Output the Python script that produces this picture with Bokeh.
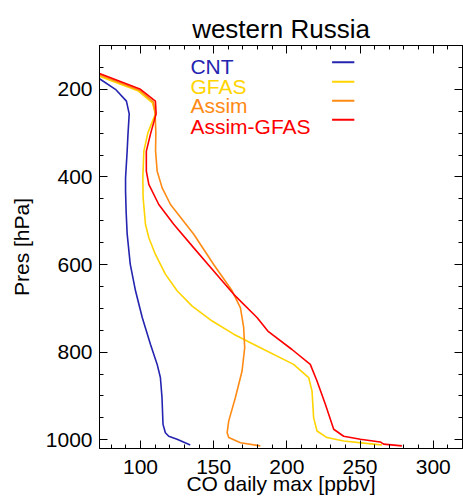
from bokeh.plotting import figure
from bokeh.models import Range1d, LinearAxis, SingleIntervalTicker, CustomJSTickFormatter
from bokeh.embed import file_html
from bokeh.resources import INLINE
from bokeh.core.properties import value

# ---- data ----
series_names = ["CNT", "GFAS", "Assim", "Assim-GFAS"]
series_colors = ["#2424b0", "#ffd400", "#ff8a14", "#ff0000"]

cnt_pres = [140, 176, 200, 227, 256, 300, 341, 402, 432, 480, 530, 599, 660, 721, 782, 828, 858, 904, 965, 984, 992, 999, 1012]
cnt_val = [56, 72, 82.9, 90.4, 92.3, 91.5, 90.9, 89.8, 89.8, 90.2, 90.9, 93, 96.6, 101.2, 106.8, 111.4, 113.6, 114.7, 115.4, 117, 119.3, 125, 134]

gfas_pres = [140, 170, 204, 231, 256, 300, 341, 402, 447, 508, 539, 577, 622, 660, 695, 729, 759, 790, 828, 858, 889, 950, 980, 995, 1003, 1010, 1012]
gfas_val = [48.5, 72, 98.6, 108.2, 110.2, 105, 102.3, 101.6, 101.8, 103.4, 105.7, 110.2, 117, 125, 135.3, 149, 163.7, 181.9, 204.6, 214.9, 217.2, 218.3, 220.6, 227.4, 238.8, 259.2, 265]

assim_pres = [140, 167, 202, 229, 256, 300, 341, 387, 425, 463, 531, 600, 660, 699, 744, 790, 843, 904, 957, 984, 995, 1007, 1014]
assim_val = [51, 72, 99.3, 108.9, 110, 110.5, 110.3, 111.4, 114.8, 120.5, 136.4, 150, 162.6, 168.3, 170.5, 171.2, 169.4, 164.8, 160.3, 159.2, 160.3, 168.3, 181.9]

ag_pres = [140, 164, 200, 227, 256, 300, 341, 387, 417, 463, 508, 562, 615, 668, 721, 752, 794, 828, 866, 919, 976, 992, 999, 1005, 1010, 1014]
ag_val = [54, 72, 100, 110.2, 110.7, 107, 104, 104, 105.7, 112.5, 122.7, 136.4, 150, 163.7, 179.6, 187, 203.5, 216, 220.6, 226.3, 232, 238.8, 250.2, 263.8, 266.1, 278.6]

x_ticks_interval = 50
y_ticks_interval = 200

FONT = "Liberation Sans"

p = figure(width=463, height=502, output_backend="svg", toolbar_location=None,
           x_range=Range1d(72, 320), y_range=Range1d(1020, 100),
           min_border_left=99, min_border_right=1, min_border_top=45, min_border_bottom=54,
           title="western Russia")
p.background_fill_color = "white"
p.border_fill_color = "white"
p.outline_line_color = "black"
p.outline_line_width = 1
p.xgrid.visible = False
p.ygrid.visible = False

p.title.align = "center"
p.title.text_font = FONT
p.title.text_font_size = "26px"
p.title.text_font_style = "normal"
p.title.text_color = "black"
p.title.standoff = 3


def style_axis(ax, labels=True):
    ax.major_tick_in = 8
    ax.major_tick_out = 0
    ax.minor_tick_in = 4
    ax.minor_tick_out = 0
    ax.axis_line_color = "black"
    ax.major_tick_line_color = "black"
    ax.minor_tick_line_color = "black"
    ax.major_label_text_font = FONT
    ax.major_label_text_color = "black"
    ax.axis_label_text_color = "black"
    ax.major_label_text_font_size = "21px"
    if not labels:
        ax.formatter = CustomJSTickFormatter(code="return ''")
        ax.major_label_standoff = 0


xa = p.xaxis[0]
xa.ticker = SingleIntervalTicker(interval=x_ticks_interval, num_minor_ticks=5)
style_axis(xa)
xa.major_label_standoff = 11
xa.axis_label = "CO daily max [ppbv]"
xa.axis_label_text_font = FONT
xa.axis_label_text_font_size = "21px"
xa.axis_label_text_font_style = "normal"
xa.axis_label_standoff = -5

ya = p.yaxis[0]
ya.ticker = SingleIntervalTicker(interval=y_ticks_interval, num_minor_ticks=4)
style_axis(ya)
ya.major_label_standoff = 7
ya.axis_label = "Pres [hPa]"
ya.axis_label_text_font = FONT
ya.axis_label_text_font_size = "21px"
ya.axis_label_text_font_style = "normal"
ya.axis_label_standoff = 10

top = LinearAxis(ticker=SingleIntervalTicker(interval=x_ticks_interval, num_minor_ticks=5))
style_axis(top, labels=False)
p.add_layout(top, "above")
right = LinearAxis(ticker=SingleIntervalTicker(interval=y_ticks_interval, num_minor_ticks=4))
style_axis(right, labels=False)
p.add_layout(right, "right")

all_vals = [cnt_val, gfas_val, assim_val, ag_val]
all_pres = [cnt_pres, gfas_pres, assim_pres, ag_pres]
for v, pr, c in zip(all_vals, all_pres, series_colors):
    p.line(v, pr, line_color=c, line_width=1.6)

# legend: text on the left, line sample on the right
leg_text_x = 134.1
leg_text_y = [146.8, 192.5, 238.1, 283.8]
leg_line_x0, leg_line_x1 = 230.9, 246.1
leg_line_y = [138.4, 182.6, 226.0, 269.4]
p.text(x=[leg_text_x] * 4, y=leg_text_y, text=series_names, text_color=series_colors,
       text_font=value(FONT), text_font_size="21px", text_baseline="alphabetic", text_align="left")
p.segment(x0=[leg_line_x0] * 4, x1=[leg_line_x1] * 4, y0=leg_line_y, y1=leg_line_y,
          line_color=series_colors, line_width=2)

open("out.html", "w").write(file_html(p, INLINE))
